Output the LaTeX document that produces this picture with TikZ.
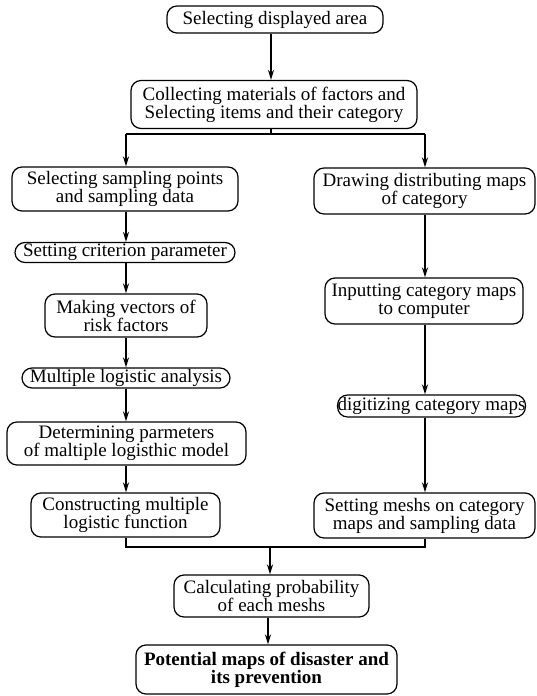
\documentclass[tikz,border=0pt]{standalone}
\usepackage{fontspec}
\setmainfont{Liberation Serif}
\usetikzlibrary{arrows.meta}
\begin{document}
\begin{tikzpicture}[x=1pt,y=-1pt,
  box/.style={draw, rounded corners=10pt, line width=1.2pt, inner sep=0pt, align=center,
    font=\fontsize{19}{18}\selectfont},
  conn/.style={line width=1.6pt},
  arr/.style={conn, -{Stealth[length=10pt,width=6pt]}}]
\useasboundingbox (0,0) rectangle (536,696);
% column coordinates
\coordinate (colL) at (126,0);
\coordinate (colR) at (425,0);
\coordinate (colT) at (271,0);
\coordinate (colM) at (270,0);
\coordinate (colB) at (268,0);
\coordinate (splitY) at (0,134);
\coordinate (mergeY) at (0,547);
% nodes
\node[box, minimum width=216pt, minimum height=27pt] (A) at (275,19.5) {Selecting displayed area};
\node[box, minimum width=286pt, minimum height=48pt] (B) at (274,104.5) {Collecting materials of factors and\\Selecting items and their category};
\node[box, minimum width=226pt, minimum height=44pt] (L1) at (125,189) {Selecting sampling points\\and sampling data};
\node[box, minimum width=221pt, minimum height=46pt] (R1) at (424.5,191) {Drawing distributing maps\\of category};
\node[box, minimum width=220pt, minimum height=20pt] (L2) at (125,252.5) {Setting criterion parameter};
\node[box, minimum width=162pt, minimum height=43pt] (L3) at (126,315.5) {Making vectors of\\risk factors};
\node[box, minimum width=208pt, minimum height=20pt] (L4) at (126,378) {Multiple logistic analysis};
\node[box, minimum width=239pt, minimum height=43pt] (L5) at (126.5,443.5) {Determining parmeters\\of maltiple logisthic model};
\node[box, minimum width=189pt, minimum height=44pt] (L6) at (125.5,515) {Constructing multiple\\logistic function};
\node[box, minimum width=198pt, minimum height=46pt] (R2) at (424,301) {Inputting category maps\\to computer};
\node[box, minimum width=183pt, minimum height=22pt] (R3) at (431.5,406) {digitizing category maps};
\node[box, minimum width=221pt, minimum height=45pt] (R4) at (424.5,515.5) {Setting meshs on category\\maps and sampling data};
\node[box, minimum width=195pt, minimum height=42pt] (C1) at (271.5,596) {Calculating probability\\of each meshs};
\node[box, minimum width=261pt, minimum height=49pt, font=\fontsize{19}{18}\selectfont\bfseries] (C2) at (266.5,669.5) {Potential maps of disaster and\\its prevention};
% connectors
\draw[arr] (A.south -| colT) -- (B.north -| colT);
\draw[conn] (B.south -| colT) -- (colT |- splitY);
\draw[arr] (colL |- splitY) -- (L1.north -| colL);
\draw[arr] (colR |- splitY) -- (R1.north -| colR);
\draw[conn] (colL |- splitY) -- (colR |- splitY);
\draw[arr] (L1.south -| colL) -- (L2.north -| colL);
\draw[arr] (L2.south -| colL) -- (L3.north -| colL);
\draw[arr] (L3.south -| colL) -- (L4.north -| colL);
\draw[arr] (L4.south -| colL) -- (L5.north -| colL);
\draw[arr] (L5.south -| colL) -- (L6.north -| colL);
\draw[arr] (R1.south -| colR) -- (R2.north -| colR);
\draw[arr] (R2.south -| colR) -- (R3.north -| colR);
\draw[arr] (R3.south -| colR) -- (R4.north -| colR);
\draw[conn] (L6.south -| colL) |- (colR |- mergeY) -- (R4.south -| colR);
\draw[arr] (colM |- mergeY) -- (C1.north -| colM);
\draw[arr] (C1.south -| colB) -- (C2.north -| colB);
\end{tikzpicture}
\end{document}
